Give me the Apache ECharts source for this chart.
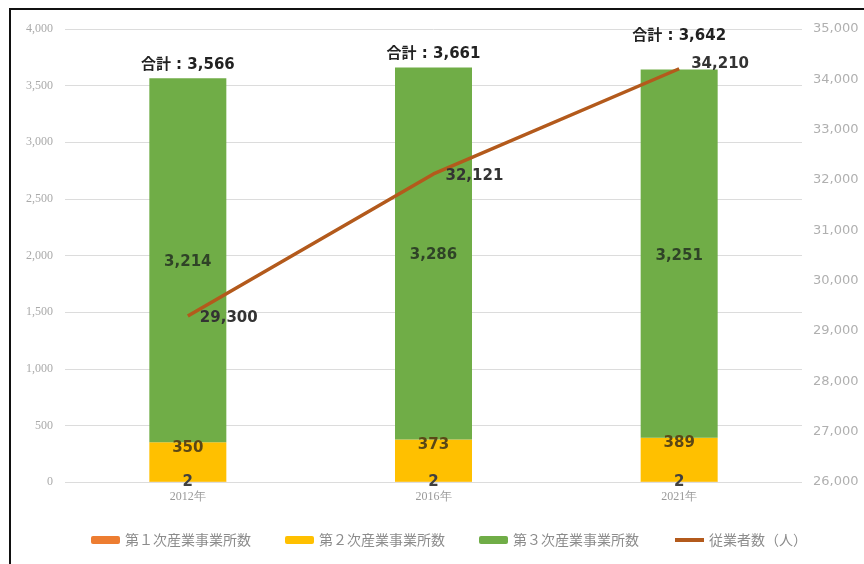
<!DOCTYPE html>
<html>
<head>
<meta charset="utf-8">
<script src="https://cdn.jsdelivr.net/npm/echarts@6/dist/echarts.min.js"></script>
<style>
  html, body { margin: 0; padding: 0; background: #fff; }
  #chart { width: 864px; height: 564px; }
</style>
</head>
<body>
<div id="chart"></div>
<script>
// Establishments by sector and number of employees
const years = ['2012年', '2016年', '2021年'];
const primary = [2, 2, 2];
const secondary = [350, 373, 389];
const tertiary = [3214, 3286, 3251];
const employees = [29300, 32121, 34210];
const seriesNames = ['第１次産業事業所数', '第２次産業事業所数', '第３次産業事業所数', '従業者数（人）'];
const leftTicks = { min: 0, max: 4000, interval: 500 };
const rightTicks = { min: 26000, max: 35000, interval: 1000 };

const totals = years.map((_, i) => primary[i] + secondary[i] + tertiary[i]);
const fmt = v => v.toLocaleString('en-US');

const JP = '"Noto Sans CJK JP", "Noto Sans", sans-serif';
const NUM = '"DejaVu Sans", "Noto Sans CJK JP", sans-serif';
const LINE_COLOR = '#B35A1C';

const chart = echarts.init(document.getElementById('chart'));
chart.setOption({
  animation: false,
  backgroundColor: '#fff',
  graphic: [{
    type: 'rect',
    silent: true,
    shape: { x: 10, y: 9, width: 900, height: 620 },
    style: { fill: null, stroke: '#111', lineWidth: 2 }
  }],
  grid: { left: 65, right: 62, top: 29, bottom: 82 },
  legend: {
    data: [
      seriesNames[0], seriesNames[1], seriesNames[2],
      { name: seriesNames[3], itemStyle: { opacity: 0 }, lineStyle: { width: 4 } }
    ],
    left: 86,
    top: 528,
    itemWidth: 29,
    itemHeight: 8,
    itemGap: 34,
    textStyle: { color: '#8c8c8c', fontSize: 14, fontFamily: JP },
  },
  xAxis: {
    type: 'category',
    data: years,
    axisLine: { show: false },
    axisTick: { show: false },
    axisLabel: { color: '#999', fontSize: 12, margin: 9, fontFamily: '"Liberation Serif", serif' }
  },
  yAxis: [{
    type: 'value',
    min: leftTicks.min, max: leftTicks.max, interval: leftTicks.interval,
    axisLine: { show: false },
    axisTick: { show: false },
    axisLabel: { color: '#aaa', fontSize: 12, margin: 12, formatter: v => fmt(v), fontFamily: '"Liberation Serif", serif' },
    splitLine: { lineStyle: { color: '#dcdcdc', width: 1 } }
  }, {
    type: 'value',
    min: rightTicks.min, max: rightTicks.max, interval: rightTicks.interval,
    axisLine: { show: false },
    axisTick: { show: false },
    axisLabel: { color: '#b0b0b0', fontSize: 13, margin: 11, formatter: v => fmt(v), fontFamily: '"DejaVu Sans", sans-serif' },
    splitLine: { show: false }
  }],
  series: [{
    name: seriesNames[0],
    type: 'bar',
    stack: 'est',
    barWidth: 77,
    data: primary,
    itemStyle: { color: '#ED7D31' },
    label: {
      show: true, position: 'inside', offset: [0, 0],
      color: '#404040', fontSize: 15, fontWeight: 'bold', fontFamily: NUM
    }
  }, {
    name: seriesNames[1],
    type: 'bar',
    stack: 'est',
    data: secondary,
    itemStyle: { color: '#FFC000' },
    label: {
      show: true, position: 'insideTop', distance: -2,
      color: '#5a4716', fontSize: 15, fontWeight: 'bold', fontFamily: NUM,
      formatter: p => fmt(p.value)
    }
  }, {
    name: seriesNames[2],
    type: 'bar',
    stack: 'est',
    data: tertiary,
    itemStyle: { color: '#70AD47' },
    label: {
      show: true, position: 'inside', offset: [0, 2],
      color: '#2f4327', fontSize: 15, fontWeight: 'bold', fontFamily: NUM,
      formatter: p => fmt(p.value)
    }
  }, {
    name: seriesNames[3],
    type: 'line',
    yAxisIndex: 1,
    data: employees.map((v, i) => i === employees.length - 1
      ? { value: v, label: { offset: [0, -5] } } : v),
    symbol: 'circle',
    symbolSize: 0,
    showSymbol: true,
    lineStyle: { color: LINE_COLOR, width: 3.5 },
    itemStyle: { color: LINE_COLOR },
    label: {
      show: true, position: 'right', distance: 12, offset: [0, 2],
      color: '#333', fontSize: 15, fontWeight: 'bold', fontFamily: NUM,
      formatter: p => fmt(p.value)
    },
    z: 5
  }, {
    // totals above each stack
    name: 'total',
    type: 'line',
    data: totals.map((v, i) => i === totals.length - 1
      ? { value: v, label: { offset: [0, -20] } } : v),
    symbol: 'circle',
    symbolSize: 0,
    showSymbol: true,
    silent: true,
    lineStyle: { width: 0, opacity: 0 },
    itemStyle: { color: '#222' },
    label: {
      show: true, position: 'top', distance: 6,
      color: '#222', fontSize: 15, fontWeight: 'bold', fontFamily: NUM,
      formatter: p => '合計 : ' + fmt(p.value)
    },
    z: 6
  }]
});
</script>
</body>
</html>
